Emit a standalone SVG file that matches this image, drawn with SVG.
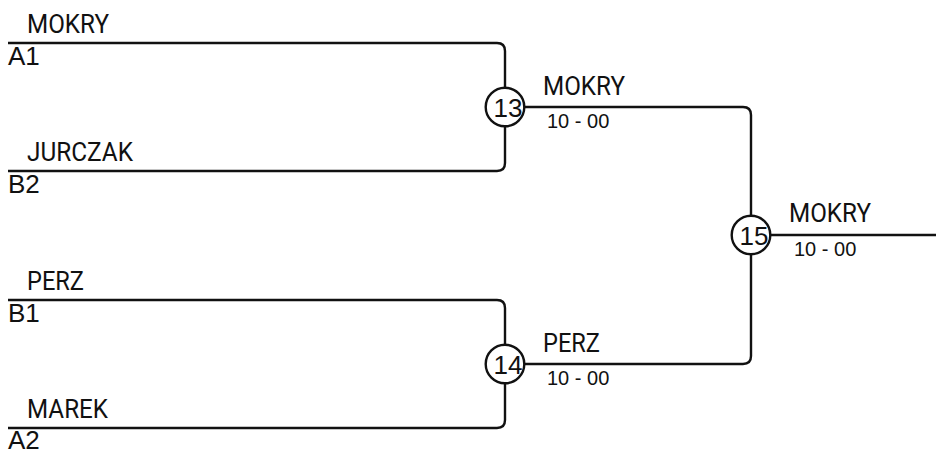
<svg xmlns="http://www.w3.org/2000/svg" width="936" height="452" viewBox="0 0 936 452">
<style>
.ln{fill:none;stroke:#111;stroke-width:2.4}
.cir{fill:#fff;stroke:#111;stroke-width:2.4}
.nm{font-family:Roboto,"Liberation Sans",sans-serif;font-size:26px;fill:#111}
.cd{font-family:"Liberation Sans",Arial,sans-serif;font-size:26px;fill:#111}
.sc{font-family:"Liberation Sans",Arial,sans-serif;font-size:20px;fill:#111}
.num{font-family:"Liberation Sans",Arial,sans-serif;font-size:26px;fill:#111;text-anchor:middle}
</style>
<rect width="936" height="452" fill="#fff"/>
<g id="connectors">
<path class="ln" d="M8 43 H497 Q505 43 505 51 V163 Q505 171 497 171 H8"/>
<path class="ln" d="M8 300 H497 Q505 300 505 308 V420 Q505 428 497 428 H8"/>
<path class="ln" d="M505 107 H743 Q751 107 751 115 V356 Q751 364 743 364 H505"/>
<path class="ln" d="M751 235 H936"/>
</g>
<g id="slot-a1">
<text class="nm" x="27" y="33" textLength="82" lengthAdjust="spacingAndGlyphs">MOKRY</text>
<text class="cd" x="8" y="65">A1</text>
</g>
<g id="slot-b2">
<text class="nm" x="27" y="161" textLength="106" lengthAdjust="spacingAndGlyphs">JURCZAK</text>
<text class="cd" x="8" y="193">B2</text>
</g>
<g id="slot-b1">
<text class="nm" x="27" y="290" textLength="57" lengthAdjust="spacingAndGlyphs">PERZ</text>
<text class="cd" x="8" y="322">B1</text>
</g>
<g id="slot-a2">
<text class="nm" x="27" y="418" textLength="81" lengthAdjust="spacingAndGlyphs">MAREK</text>
<text class="cd" x="8" y="449">A2</text>
</g>
<g id="match-13">
<circle class="cir" cx="505" cy="107" r="19.3"/>
<text class="num" x="508" y="116.5">13</text>
<text class="nm" x="543" y="95" textLength="82" lengthAdjust="spacingAndGlyphs">MOKRY</text>
<text class="sc" x="547" y="128">10 - 00</text>
</g>
<g id="match-14">
<circle class="cir" cx="505" cy="364" r="19.3"/>
<text class="num" x="508" y="373.5">14</text>
<text class="nm" x="543" y="352" textLength="57" lengthAdjust="spacingAndGlyphs">PERZ</text>
<text class="sc" x="547" y="385">10 - 00</text>
</g>
<g id="match-15">
<circle class="cir" cx="751" cy="235" r="19.3"/>
<text class="num" x="754" y="244.5">15</text>
<text class="nm" x="789" y="222" textLength="82" lengthAdjust="spacingAndGlyphs">MOKRY</text>
<text class="sc" x="794" y="256">10 - 00</text>
</g>
</svg>
